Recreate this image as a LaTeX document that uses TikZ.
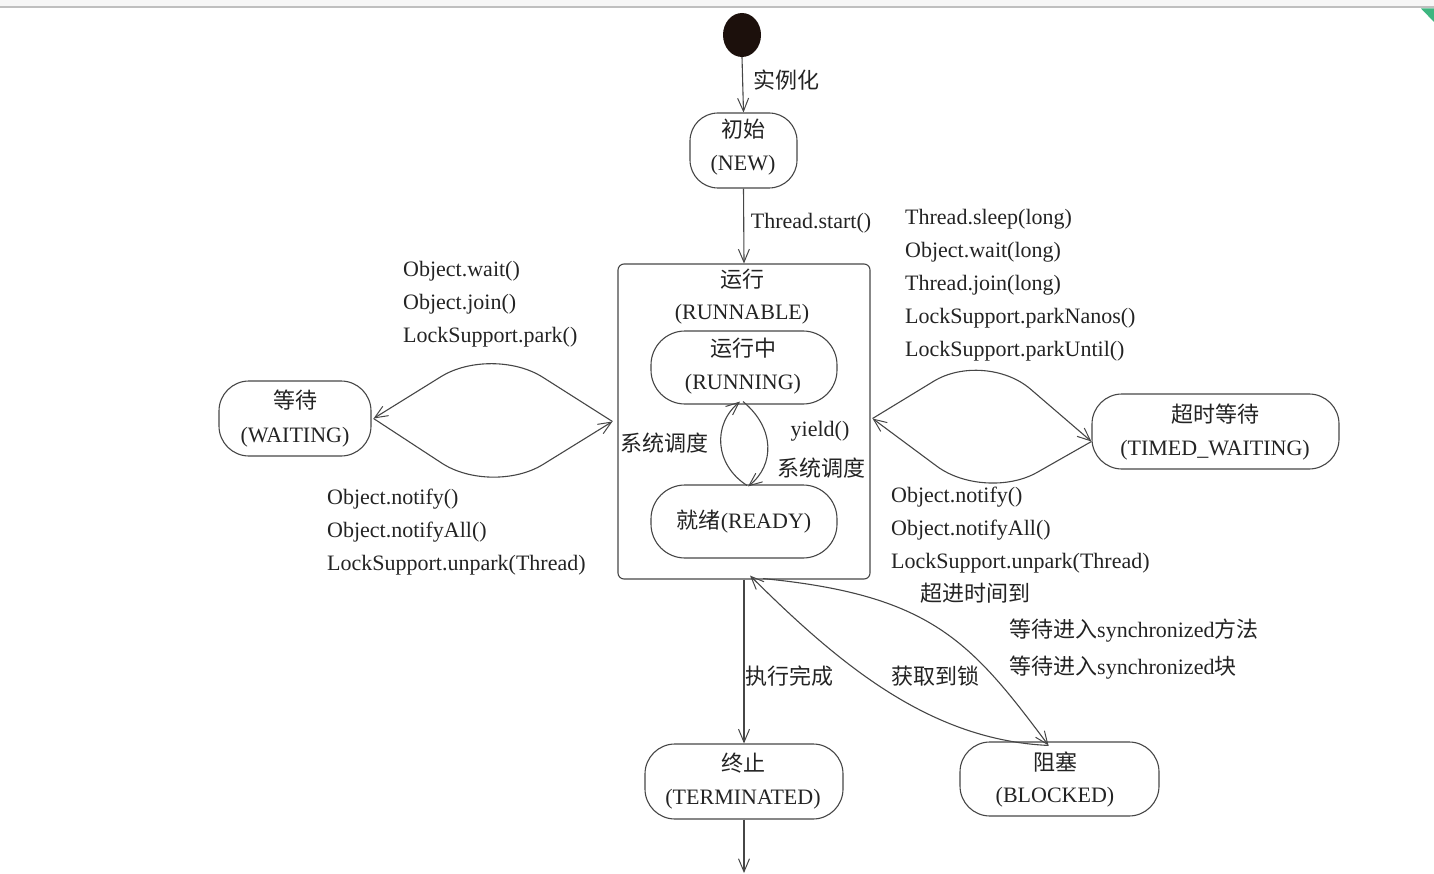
\documentclass[tikz,border=0pt]{standalone}
\usepackage{fontspec}
\setmainfont{Liberation Serif}
\newfontfamily\cjk{Noto Sans CJK SC}
\usetikzlibrary{arrows.meta,shapes.geometric}
\newcommand\zh[1]{{\cjk #1}}
\definecolor{ink}{RGB}{35,35,35}
\definecolor{edge}{RGB}{70,70,70}
\definecolor{corner}{RGB}{62,182,128}
\definecolor{dot}{RGB}{28,16,12}
\begin{document}
\begin{tikzpicture}[x=1pt,y=-1pt,
  every node/.style={font=\fontsize{22}{26}\selectfont, text=ink},
  state/.style={draw=edge, line width=1.1pt, rounded corners=28pt, align=center, inner sep=0pt},
  lbl/.style={inner sep=0pt, anchor=west, align=left},
  clbl/.style={inner sep=0pt},
  arr/.style={draw=edge, line width=1.1pt, -{Straight Barb[length=13pt,width=11pt,line width=1pt]}}
]
\useasboundingbox (0,0) rectangle (1434,874);
% top strip
\fill[gray!7] (0,0) rectangle (1434,7);
\draw[gray!50, line width=2pt] (0,7.5) -- (1434,7.5);
\fill[corner] (1421,8.5) -- (1434,8.5) -- (1434,22) -- cycle;

% initial
\node[ellipse, fill=dot, minimum width=38pt, minimum height=44pt, inner sep=0pt] (init) at (742,35) {};
\node[state, minimum width=107pt, minimum height=75pt] (new) at (743.5,150.5) {};
\node[clbl] (newa) at (743,129) {\zh{初始}};
\node[clbl] (newb) at (743,165) {(NEW)};
\draw[arr] (init.south) -- (new.north);
\node[clbl] (l1) at (786,80) {\zh{实例化}};

% runnable
\node[draw=edge, line width=1.1pt, rounded corners=6pt, minimum width=252pt, minimum height=315pt, inner sep=0pt] (runnable) at (744,421.5) {};
\node[clbl] (runa) at (742,279) {\zh{运行}};
\node[clbl] (runb) at (742,314) {(RUNNABLE)};
\draw[arr] (new.south) -- (runnable.north);
\node[clbl] (l2) at (811,223) {Thread.start()};

\node[state, rounded corners=34pt, minimum width=186pt, minimum height=73pt] (running) at (744,367.5) {};
\node[clbl] (runninga) at (743,348) {\zh{运行中}};
\node[clbl] (runningb) at (743,384) {(RUNNING)};
\node[state, rounded corners=34pt, minimum width=186pt, minimum height=73pt] (ready) at (744,521.5) {\zh{就绪}(READY)};

\coordinate (rdT1) at ([xshift=3pt,yshift=-1pt]ready.north);
\coordinate (rnB1) at ([xshift=-4pt,yshift=3pt]running.south);
\coordinate (rnB2) at ([xshift=-1pt,yshift=3pt]running.south);
\coordinate (rdT2) at ([xshift=4pt,yshift=-2pt]ready.north);
\draw[arr] (rdT1) .. controls (715,465) and (712,425) .. (rnB1);
\draw[arr] (rnB2) .. controls (775,428) and (775,465) .. (rdT2);
\node[clbl] (l3) at (664,443) {\zh{系统调度}};
\node[clbl] (l4) at (820,431) {yield()};
\node[clbl] (l5) at (821,468) {\zh{系统调度}};

% waiting
\node[state, rounded corners=30pt, minimum width=152pt, minimum height=75pt] (waiting) at (295,418.5) {};
\node[clbl] (wa) at (295,400) {\zh{等待}};
\node[clbl] (wb) at (295,437) {(WAITING)};
\coordinate (wE) at ([xshift=2pt]waiting.east);
\coordinate (rW) at ([xshift=-5pt]runnable.west);
\draw[arr, rounded corners=60pt] (rW) -- (492,345) -- (wE);
\draw[arr, rounded corners=60pt] (wE) -- (492,496) -- (rW);
\node[lbl] (w1) at (403,304) {Object.wait()\\[7pt]Object.join()\\[7pt]LockSupport.park()};
\node[lbl] (w2) at (327,532) {Object.notify()\\[7pt]Object.notifyAll()\\[7pt]LockSupport.unpark(Thread)};

% timed waiting
\node[state, rounded corners=30pt, minimum width=247pt, minimum height=75pt] (timed) at (1215.5,431.5) {};
\node[clbl] (ta) at (1215,414) {\zh{超时等待}};
\node[clbl] (tb) at (1215,450) {(TIMED\_WAITING)};
\coordinate (rE) at ([xshift=2pt,yshift=3pt]runnable.east);
\coordinate (tW) at ([yshift=-10pt]timed.west);
\draw[arr, rounded corners=60pt] (rE) -- (985,350) -- (tW);
\draw[arr, rounded corners=60pt] (tW) -- (985,502) -- (rE);
\node[lbl] (t1) at (905,285) {Thread.sleep(long)\\[7pt]Object.wait(long)\\[7pt]Thread.join(long)\\[7pt]LockSupport.parkNanos()\\[7pt]LockSupport.parkUntil()};
\node[lbl] (t2) at (891,530) {Object.notify()\\[7pt]Object.notifyAll()\\[7pt]LockSupport.unpark(Thread)};

% terminated
\node[state, rounded corners=30pt, minimum width=198pt, minimum height=75pt] (term) at (744,781.5) {};
\node[clbl] (terma) at (743,763) {\zh{终止}};
\node[clbl] (termb) at (743,799) {(TERMINATED)};
\draw[arr] (runnable.south -| term.north) -- (term.north);
\coordinate (endp) at (744,873);
\draw[arr] (term.south) -- (endp);
\node[clbl] (l6) at (789,676) {\zh{执行完成}};

% blocked
\node[state, rounded corners=30pt, minimum width=199pt, minimum height=74pt] (blocked) at (1059.5,779) {};
\node[clbl] (ba) at (1055,762) {\zh{阻塞}};
\node[clbl] (bb) at (1055,797) {(BLOCKED)};
\coordinate (rS1) at ([xshift=19pt,yshift=1pt]runnable.south);
\coordinate (rS2) at ([xshift=6pt,yshift=4pt]runnable.south);
\coordinate (bN) at ([xshift=-11pt,yshift=-4pt]blocked.north);
\draw[arr] (rS1) .. controls (930,595) and (970,640) .. (bN);
\draw[arr] (bN) .. controls (930,740) and (840,665) .. (rS2);
\node[clbl] (l7) at (975,593) {\zh{超进时间到}};
\node[lbl] (l8) at (1009,631) {\zh{等待进入}synchronized\zh{方法}};
\node[lbl] (l9) at (1009,668) {\zh{等待进入}synchronized\zh{块}};
\node[clbl] (l10) at (935,676) {\zh{获取到锁}};
\end{tikzpicture}
\end{document}
